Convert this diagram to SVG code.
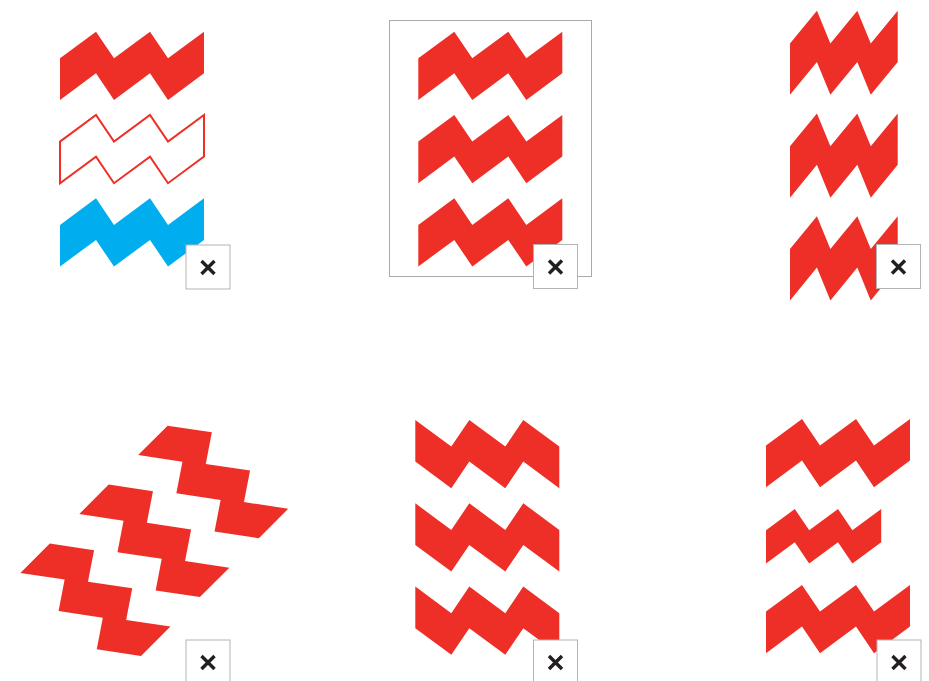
<svg xmlns="http://www.w3.org/2000/svg" xmlns:xlink="http://www.w3.org/1999/xlink" width="929" height="681" viewBox="0 0 929 681">
<style>
.red{fill:#EE2F27}
.blue{fill:#00AEEF}
.outline{fill:#fff;stroke:#EE2F27;stroke-width:2}
.box{fill:#fff;stroke:#b3b3b3;stroke-width:1}
.x{stroke:#231f20;stroke-width:3.4;stroke-linecap:butt;fill:none}
.frame{fill:none;stroke:#aaaaaa;stroke-width:1}
</style>
<defs>
<path id="m" d="M0,26.6 L36,0 L54,26.6 L90,0 L108,26.6 L144,0 L144,41.6 L108,68.2 L90,41.6 L54,68.2 L36,41.6 L0,68.2 Z"/>
<g id="no">
<rect class="box" x="0.5" y="0.5" width="44" height="44"/>
<path class="x" d="M16,16.5 L29,29.5 M29,16.5 L16,29.5"/>
</g>
</defs>
<rect width="929" height="681" fill="#fff"/>

<g id="panel-colors">
<use href="#m" class="red" transform="translate(60,31.7)"/>
<use href="#m" class="outline" transform="translate(60,115)"/>
<use href="#m" class="blue" transform="translate(60,198.3)"/>
<use href="#no" transform="translate(185.5,244.5)"/>
</g>

<g id="panel-frame">
<rect class="frame" x="389.5" y="20.5" width="202" height="256"/>
<use href="#m" class="red" transform="translate(418.3,31.7)"/>
<use href="#m" class="red" transform="translate(418.3,115)"/>
<use href="#m" class="red" transform="translate(418.3,198.3)"/>
<use href="#no" transform="translate(533,244)"/>
</g>

<g id="panel-stretch">
<g transform="translate(790,10.7) scale(0.748,1.234)">
<use href="#m" class="red"/>
<use href="#m" class="red" y="83.3"/>
<use href="#m" class="red" y="166.6"/>
</g>
<use href="#no" transform="translate(876,244)"/>
</g>

<g id="panel-rotate">
<g transform="translate(186.4,406.9) rotate(45)">
<use href="#m" class="red"/>
<use href="#m" class="red" y="83.3"/>
<use href="#m" class="red" y="166.6"/>
</g>
<use href="#no" transform="translate(185.5,639.5)"/>
</g>

<g id="panel-flip">
<g transform="translate(559.3,420) scale(-1,1)">
<use href="#m" class="red"/>
<use href="#m" class="red" y="83.3"/>
<use href="#m" class="red" y="166.6"/>
</g>
<use href="#no" transform="translate(533,639.5)"/>
</g>

<g id="panel-scale">
<use href="#m" class="red" transform="translate(766,419)"/>
<use href="#m" class="red" transform="translate(766,509) scale(0.8)"/>
<use href="#m" class="red" transform="translate(766,585)"/>
<use href="#no" transform="translate(876.5,639.5)"/>
</g>
</svg>
